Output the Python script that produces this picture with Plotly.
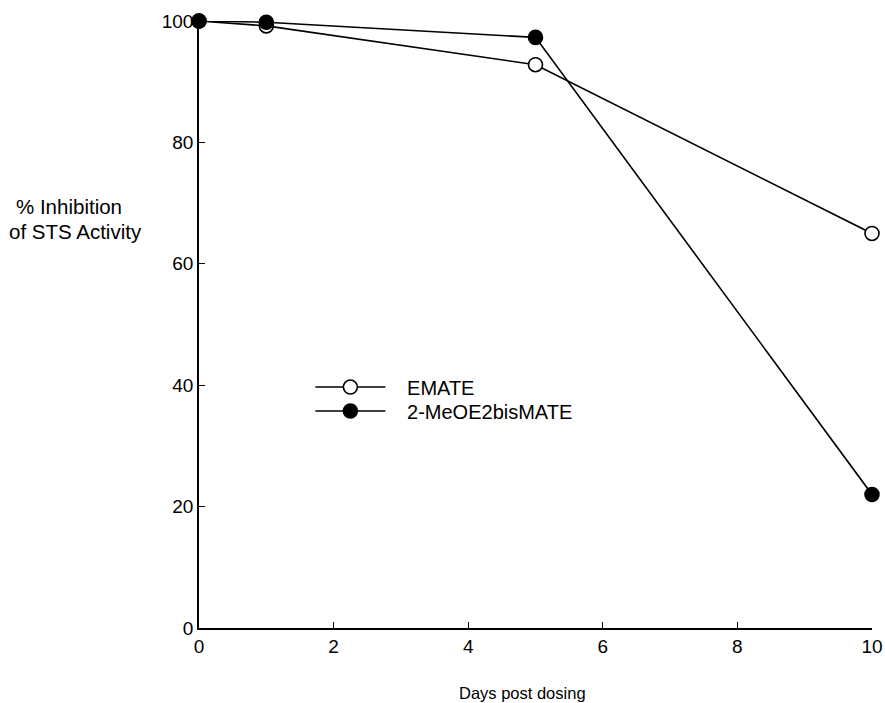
import plotly.graph_objects as go

days = [0, 1, 5, 10]
emate = [100, 99.2, 92.8, 65]
meo = [100, 99.8, 97.3, 22]
x_ticks = [0, 2, 4, 6, 8, 10]
y_ticks = [0, 20, 40, 60, 80, 100]

NB = "\u00a0"
fam = "Liberation Sans, Arial, sans-serif"
tick_font = dict(family=fam, size=19, color="black")
leg_font = dict(family=fam, size=20, color="black")
ytitle_font = dict(family=fam, size=20.5, color="black")

fig = go.Figure()
fig.add_trace(go.Scatter(x=days, y=emate, mode="lines+markers", name=NB * 3 + "EMATE",
                         line=dict(color="black", width=1.6),
                         marker=dict(symbol="circle", size=14, color="white",
                                     line=dict(color="black", width=1.6)),
                         cliponaxis=False, legend="legend"))
fig.add_trace(go.Scatter(x=days, y=meo, mode="lines+markers", name=NB * 3 + "2-MeOE2bisMATE",
                         line=dict(color="black", width=1.6),
                         marker=dict(symbol="circle", size=14, color="black",
                                     line=dict(color="black", width=1.6)),
                         cliponaxis=False, legend="legend2"))

leg_common = dict(xanchor="left", yanchor="middle", bgcolor="rgba(0,0,0,0)",
                  font=leg_font, itemwidth=70)

fig.update_layout(
    width=885, height=703,
    margin=dict(l=199, r=13, t=21, b=75, autoexpand=False),
    paper_bgcolor="white", plot_bgcolor="white",
    font=tick_font,
    showlegend=True,
    legend=dict(x=0.1655, y=0.397, **leg_common),
    legend2=dict(x=0.1655, y=0.3575, **leg_common),
)
fig.update_xaxes(range=[0, 10], tickvals=x_ticks, ticks="inside", ticklen=6,
                 tickcolor="black", showline=True, linecolor="black", linewidth=1.5,
                 showgrid=False, zeroline=False, tickfont=tick_font, automargin=False)
fig.update_yaxes(range=[0, 100], tickvals=y_ticks, ticks="inside", ticklen=6,
                 tickcolor="black", showline=True, linecolor="black", linewidth=1.5,
                 showgrid=False, zeroline=False, tickfont=tick_font, automargin=False)

fig.add_annotation(text="Days post dosing", xref="paper", yref="paper",
                   x=0.481, y=-0.107, showarrow=False,
                   font=dict(family=fam, size=16.5, color="black"),
                   xanchor="center", yanchor="middle")
fig.add_annotation(text="% Inhibition", xref="paper", yref="paper",
                   x=-0.1939, y=0.6936, showarrow=False, font=ytitle_font,
                   xanchor="center", yanchor="middle")
fig.add_annotation(text="of STS Activity", xref="paper", yref="paper",
                   x=-0.1842, y=0.6524, showarrow=False, font=ytitle_font,
                   xanchor="center", yanchor="middle")

fig.write_html("out.html", config={"displayModeBar": False},
               post_script="document.body.style.margin='0';document.body.style.overflow='hidden';")
